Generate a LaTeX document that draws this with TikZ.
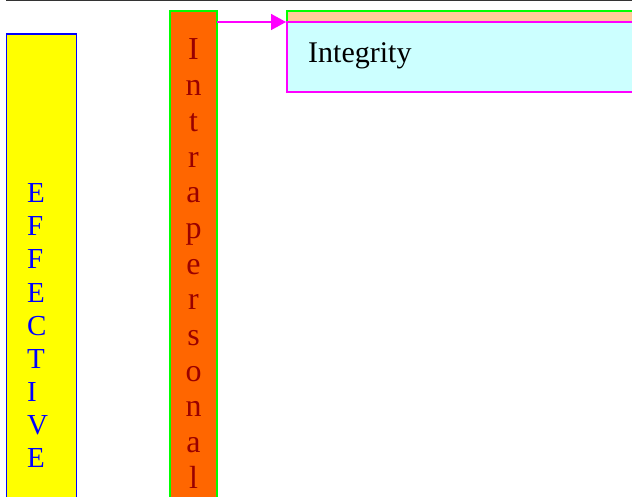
\documentclass[tikz,border=0pt]{standalone}
\usepackage{fontspec}
\setmainfont{Liberation Serif}
\usetikzlibrary{arrows.meta}
\definecolor{rulegray}{HTML}{333333}
\definecolor{effyellow}{HTML}{FFFF00}
\definecolor{effblue}{HTML}{0000FF}
\definecolor{intraorange}{HTML}{FF6600}
\definecolor{intrared}{HTML}{990000}
\definecolor{edgegreen}{HTML}{00FF00}
\definecolor{linkmagenta}{HTML}{FF00FF}
\definecolor{peach}{HTML}{FFCC99}
\definecolor{paleCyan}{HTML}{CCFFFF}
\tikzset{
  colbox/.style={inner sep=0pt, outer sep=0pt, line width=1.6pt},
  bluechar/.style={inner sep=0pt, anchor=base west, text=effblue,
    font=\fontsize{29}{33}\selectfont},
  redchar/.style={inner sep=0pt, anchor=base, text=intrared,
    font=\fontsize{32}{36}\selectfont},
  link/.style={draw=linkmagenta, line width=1.6pt,
    -{Triangle[length=15pt,width=16pt]}},
}
\begin{document}
\begin{tikzpicture}[x=1pt,y=-1pt]
\useasboundingbox (0,0) rectangle (632,497);
% top rule
\draw[rulegray, line width=1.5pt] (6,0.7) -- (632,0.7);
% EFFECTIVE column
\path[colbox, fill=effyellow, draw=effblue] (6.5,34) rectangle (76.5,510);
\foreach \ch [count=\i from 0] in {E,F,F,E,C,T,I,V,E}
  \node[bluechar] (eff\i) at (27,203+33*\i) {\ch};
% Intrapersonal column
\path[colbox, fill=intraorange, draw=edgegreen] (170,11) rectangle (217,510);
\coordinate (intraR) at (217,22);
\foreach \ch [count=\i from 0] in {I,n,t,r,a,p,e,r,s,o,n,a,l}
  \node[redchar] (intra\i) at (193.5,60+35.67*\i) {\ch};
% Integrity box with its header strip
\path[fill=peach] (287,11) rectangle (640,22);
\draw[edgegreen, line width=1.6pt] (287,22) -- (287,11) -- (640,11);
\path[colbox, fill=paleCyan, draw=linkmagenta] (287,22) rectangle (640,92);
\coordinate (integL) at (286,22);
\node[inner sep=0pt, anchor=base west, font=\fontsize{30}{34}\selectfont]
  (integ) at (308,63) {Integrity};
% connector
\draw[link] (intraR) -- (integL);
\end{tikzpicture}
\end{document}
